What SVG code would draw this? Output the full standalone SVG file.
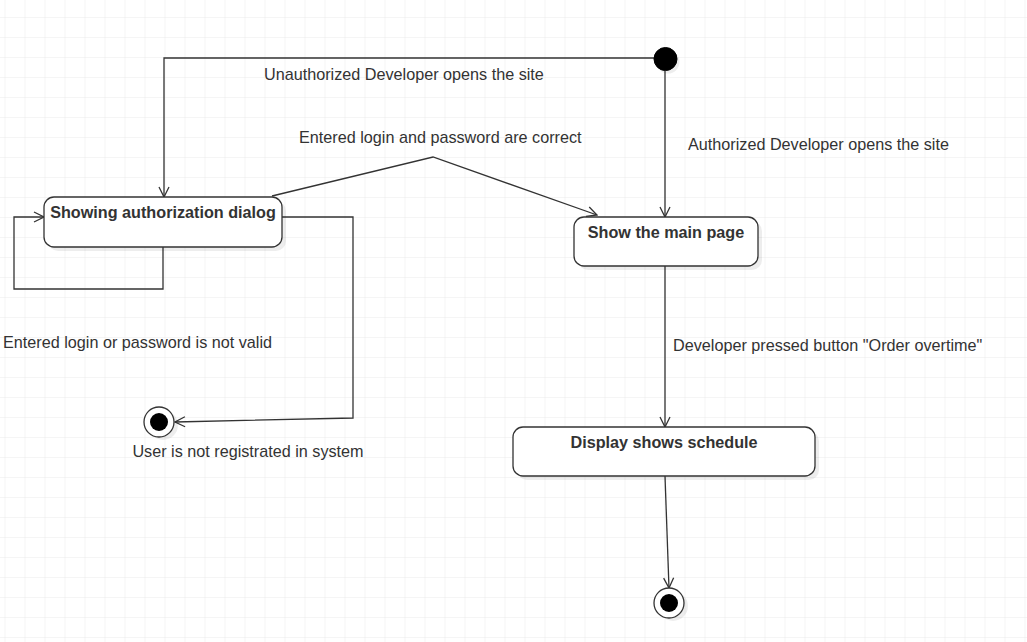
<svg xmlns="http://www.w3.org/2000/svg" width="1027" height="642" viewBox="0 0 1027 642">
<defs>
<pattern id="grid" x="4.5" y="17" width="20" height="20" patternUnits="userSpaceOnUse">
<path d="M0 0H20M0 0V20" fill="none" stroke="#ececec" stroke-width="1.2"/>
</pattern>
<marker id="arr" viewBox="0 0 12 12" refX="11" refY="6" markerWidth="12" markerHeight="12" markerUnits="userSpaceOnUse" orient="auto">
<path d="M1 1L11 6L1 11" fill="none" stroke="#333" stroke-width="1.3"/>
</marker>
</defs>
<style>
.state{fill:#fff;stroke:#333;stroke-width:1.3}
.shadow{fill:#000;opacity:0.07}
.title{font-family:"Liberation Sans",Arial,sans-serif;font-size:16.2px;font-weight:bold;fill:#333;text-anchor:middle}
.lbl{font-family:"Liberation Sans",Arial,sans-serif;font-size:16.2px;fill:#333}
.edge{fill:none;stroke:#333;stroke-width:1.3;marker-end:url(#arr)}
</style>
<rect width="1027" height="642" fill="#fff"/>
<rect width="1027" height="642" fill="url(#grid)"/>

<g id="connectors">
<path class="edge" d="M654 58H164V197"/>
<path class="edge" d="M665 71V217"/>
<path class="edge" d="M272 196L433 157L597 215"/>
<path class="edge" d="M163 247V289H14V217H44"/>
<path class="edge" d="M282 217H353V418L175 422"/>
<path class="edge" d="M665 266V427"/>
<path class="edge" d="M665 476L669 588"/>
<text class="lbl" x="264" y="80">Unauthorized Developer opens the site</text>
<text class="lbl" x="299" y="143">Entered login and password are correct</text>
<text class="lbl" x="688" y="150">Authorized Developer opens the site</text>
<text class="lbl" x="3" y="348">Entered login or password is not valid</text>
<text class="lbl" x="673" y="351">Developer pressed button "Order overtime"</text>
</g>

<g id="start">
<circle class="shadow" cx="668" cy="62" r="11.5"/>
<circle cx="665.5" cy="59" r="11.5" fill="#000" stroke="#000"/>
</g>

<g id="auth-dialog">
<rect class="shadow" x="48" y="201" width="238" height="50" rx="10"/>
<rect class="state" x="44" y="197" width="238" height="50" rx="10"/>
<text class="title" x="163" y="218">Showing authorization dialog</text>
</g>

<g id="main-page">
<rect class="shadow" x="578" y="221" width="184" height="49" rx="10"/>
<rect class="state" x="574" y="217" width="184" height="49" rx="10"/>
<text class="title" x="666" y="238">Show the main page</text>
</g>

<g id="schedule">
<rect class="shadow" x="517" y="431" width="302" height="49" rx="10"/>
<rect class="state" x="513" y="427" width="302" height="49" rx="10"/>
<text class="title" x="664" y="448">Display shows schedule</text>
</g>

<g id="end-unregistered">
<circle class="shadow" cx="163" cy="425" r="15"/>
<circle cx="159" cy="422" r="15" fill="#fff" stroke="#333" stroke-width="1.3"/>
<circle cx="159" cy="422" r="9" fill="#000"/>
<text class="lbl" x="248" y="457" text-anchor="middle">User is not registrated in system</text>
</g>

<g id="end-final">
<circle class="shadow" cx="673" cy="606" r="15"/>
<circle cx="669" cy="603" r="15" fill="#fff" stroke="#333" stroke-width="1.3"/>
<circle cx="669" cy="603" r="9" fill="#000"/>
</g>
</svg>
